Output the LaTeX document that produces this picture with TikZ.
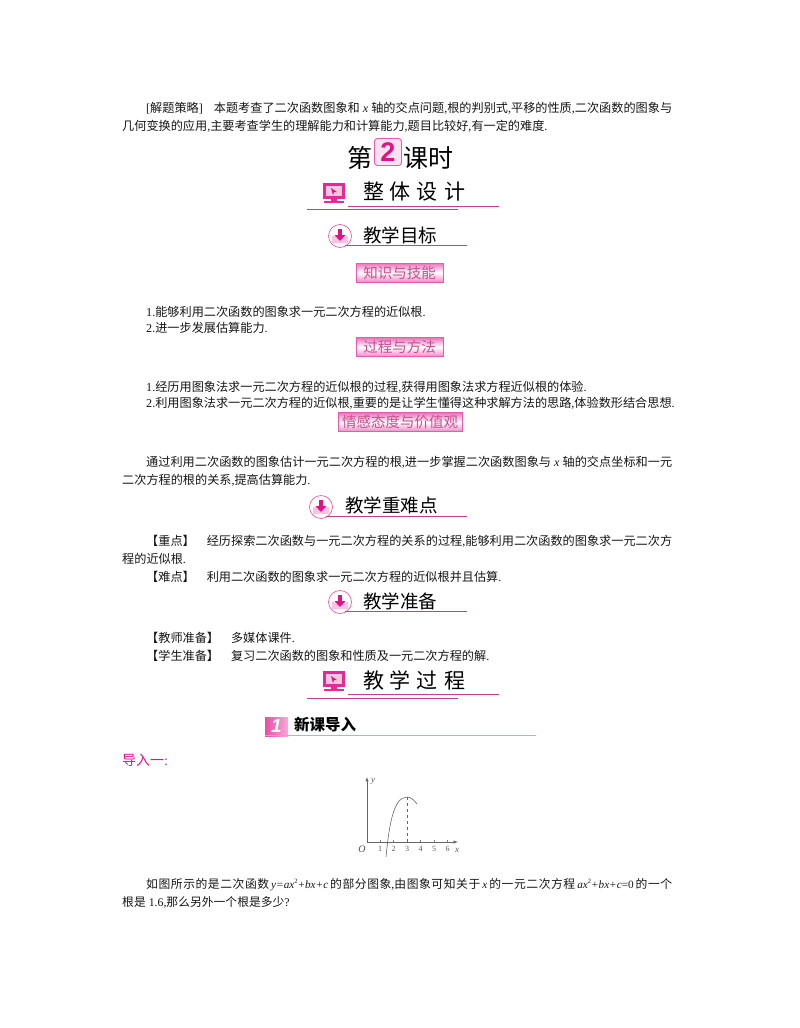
\documentclass[tikz,border=0pt]{standalone}
\usepackage{fontspec}
\setmainfont{Liberation Serif}
\newfontfamily\cjk{Noto Sans CJK SC}
\newfontfamily\numfont{Liberation Sans}
\newcommand{\zh}[1]{{\cjk #1}}
\newcommand{\sq}{\raisebox{4.5pt}{\fontsize{6.5}{7}\selectfont 2}}
\newcommand{\mth}[1]{{\fontsize{11.2}{18}\selectfont\itshape #1}}
\XeTeXlinebreaklocale "zh"
\XeTeXlinebreakskip=0pt plus 2pt
\definecolor{rosered}{HTML}{E0128A}
\definecolor{roseline}{HTML}{C2408F}
\definecolor{rosepale}{HTML}{F7C6DE}
\definecolor{rosetext}{HTML}{C8508F}
\definecolor{inkgray}{HTML}{151515}
\tikzset{
  x=1pt, y=-1pt,
  textline/.style={anchor=base west, inner sep=0pt, font=\fontsize{12.15}{18}\selectfont, text=inkgray},
  paragraph/.style={anchor=north west, inner sep=0pt, text width=550pt, align=justify,
    font=\fontsize{12.15}{18}\selectfont, text=inkgray},
  badge/.style={draw=rosered!70, line width=0.6pt, minimum height=19pt, inner sep=0pt,
    top color=rosered!60, bottom color=rosered!50, middle color=white,
    text=rosetext, font=\fontsize{14.5}{16}\selectfont},
  bighead/.style={inner sep=0pt, text=black, font=\fontsize{21}{24}\selectfont},
  midhead/.style={inner sep=0pt, text=black, font=\fontsize{18.5}{22}\selectfont},
  headline/.style={roseline, line width=1pt},
  monitoricon/.pic={
    \fill[rosered!90] (-11,-10) rectangle (11,6);
    \fill[rosepale] (-8,-7) rectangle (8,3);
    \fill[rosered] (-3,-5) -- (3,-1) -- (0,-1) -- (-1,2) -- cycle;
    \fill[rosered!90] (-3,6) rectangle (3,8);
    \fill[rosered!90] (-10,8) rectangle (10,10);
  },
  downicon/.pic={
    \draw[rosered!70, fill=white, line width=0.7pt] (0,0) circle (11.5);
    \fill[rosepale] (-8,0) -- (-4,0) -- (0,5) -- (4,0) -- (8,0) -- (8,7) -- (-8,7) -- cycle;
    \fill[rosered] (-2,-7) rectangle (2,-1);
    \fill[rosered] (-5.5,-1) -- (5.5,-1) -- (0,5) -- cycle;
  },
}
\begin{document}
\begin{tikzpicture}
  \useasboundingbox (0,0) rectangle (800,1028);

  % Opening paragraph
  \node[paragraph] (intro) at (122,102) {\hspace*{24pt}[\zh{解题策略}]\hspace{11pt}\zh{本题考查了二次函数图象和} \textit{x} \zh{轴的交点问题},\zh{根的判别式},\zh{平移的性质},\zh{二次函数的图象与}\linebreak[4]\zh{几何变换的应用},\zh{主要考查学生的理解能力和计算能力},\zh{题目比较好},\zh{有一定的难度}.};

  % Lesson title
  \node[inner sep=0pt, font=\fontsize{25}{28}\selectfont] (lessonA) at (360,158) {\zh{第}};
  \node[draw=rosered!70, fill=rosepale!50, rounded corners=3pt, line width=0.9pt, minimum width=27pt, minimum height=27pt, inner sep=0pt,
    text=rosered, font=\fontsize{27}{28}\numfont\bfseries] (lessonNum) at (388,152) {2};
  \node[inner sep=0pt, font=\fontsize{25}{28}\selectfont] (lessonB) at (428,158) {\zh{课时}};

  % Section: overall design
  \pic at (334,193) {monitoricon};
  \node[bighead] (designHead) at (414,192) {\zh{整\hspace{6pt}体\hspace{6pt}设\hspace{6pt}计}};
  \draw[headline] (348,206) -- (499,206);
  \draw[headline] (307,209.5) -- (458,209.5);

  % Section: goals
  \pic at (340,236) {downicon};
  \node[midhead] (goalHead) at (400,235) {\zh{教学目标}};
  \draw[headline] (345,245) -- (467,245);

  \node[badge, minimum width=87pt] (skillTag) at (399.5,272.5) {\zh{知识与技能}};
  \node[textline] (skillA) at (146,316) {1.\zh{能够利用二次函数的图象求一元二次方程的近似根}.};
  \node[textline] (skillB) at (146,332) {2.\zh{进一步发展估算能力}.};

  \node[badge, minimum width=87pt] (methodTag) at (399.5,347) {\zh{过程与方法}};
  \node[textline] (methodA) at (146,391) {1.\zh{经历用图象法求一元二次方程的近似根的过程},\zh{获得用图象法求方程近似根的体验}.};
  \node[textline] (methodB) at (146,407) {2.\zh{利用图象法求一元二次方程的近似根},\zh{重要的是让学生懂得这种求解方法的思路},\zh{体验数形结合思想}.};

  \node[badge, minimum width=124pt] (attitudeTag) at (400,422) {\zh{情感态度与价值观}};
  \node[paragraph] (attitude) at (122,456) {\hspace*{24pt}\zh{通过利用二次函数的图象估计一元二次方程的根},\zh{进一步掌握二次函数图象与} \textit{x} \zh{轴的交点坐标和一元}\linebreak[4]\zh{二次方程的根的关系},\zh{提高估算能力}.};

  % Section: key points
  \pic at (321,507) {downicon};
  \node[midhead] (keyHead) at (391.5,505) {\zh{教学重难点}};
  \draw[headline] (326,516) -- (467,516);

  \node[paragraph] (keyA) at (122,535) {\hspace*{24pt}\zh{【重点】}\hspace{12pt}\zh{经历探索二次函数与一元二次方程的关系的过程},\zh{能够利用二次函数的图象求一元二次方}\linebreak[4]\zh{程的近似根}.};
  \node[textline] (keyB) at (146,581) {\zh{【难点】}\hspace{12pt}\zh{利用二次函数的图象求一元二次方程的近似根并且估算}.};

  % Section: preparation
  \pic at (340,602) {downicon};
  \node[midhead] (prepHead) at (400,601) {\zh{教学准备}};
  \draw[headline] (345,611) -- (467,611);

  \node[textline] (prepA) at (146,642) {\zh{【教师准备】}\hspace{12pt}\zh{多媒体课件}.};
  \node[textline] (prepB) at (146,660) {\zh{【学生准备】}\hspace{12pt}\zh{复习二次函数的图象和性质及一元二次方程的解}.};

  % Section: teaching process
  \pic at (334,681) {monitoricon};
  \node[bighead] (processHead) at (414,680) {\zh{教\hspace{6pt}学\hspace{6pt}过\hspace{6pt}程}};
  \draw[headline] (348,694) -- (499,694);
  \draw[headline] (307,698) -- (458,698);

  % New lesson banner
  \shade[left color=rosered!75, right color=rosered!35] (265,717) rectangle (288,736);
  \node[inner sep=0pt, text=white, font=\fontsize{19}{20}\numfont\bfseries\itshape] (newNum) at (276.5,726) {1};
  \node[inner sep=0pt, text=black, font=\fontsize{15.5}{18}\selectfont] (newHead) at (325,725) {\zh{\bfseries 新课导入}};
  \draw[rosered!45, line width=1pt] (265,735.5) -- (536,735.5);

  \node[textline, text=rosered, font=\fontsize{14}{16}\selectfont] (leadIn) at (122,765) {\zh{导入一}:};

  % Graph
  \draw[-latex, gray!80!black, line width=0.5pt] (367,842) -- (367,777);
  \draw[-latex, gray!80!black, line width=0.5pt] (367,842) -- (458,842);
  \foreach \t/\xpos in {1/380,2/393.5,3/407,4/420.5,5/434,6/447.5}{
    \draw[gray, line width=0.4pt] (\xpos,842) -- (\xpos,840);
    \node[inner sep=0pt, text=gray!70!black, font=\fontsize{8}{9}\selectfont] (tick\t) at (\xpos,849) {\t};
  }
  \node[inner sep=0pt, text=gray!60!black, font=\fontsize{10}{10}\selectfont\itshape] (originLabel) at (362,849) {O};
  \node[inner sep=0pt, text=gray!70!black, font=\fontsize{9}{9}\selectfont\itshape] (xLabel) at (457,850) {x};
  \node[inner sep=0pt, text=gray!70!black, font=\fontsize{9}{9}\selectfont\itshape] (yLabel) at (373,781) {y};
  \draw[gray!80!black, line width=0.6pt] (386,857) .. controls (389,827) and (393,797) .. (407,797) .. controls (411,797) and (414,800) .. (417,804);
  \draw[dashed, gray!80!black, line width=0.5pt] (407,797) -- (407,842);

  % Closing paragraph
  \node[paragraph, font=\fontsize{11.8}{18}\selectfont] (question) at (122,878) {\hspace*{24pt}\zh{如图所示的是二次函数}\hspace{2pt}\mth{y=ax}\sq\mth{+bx+c}\hspace{2pt}\zh{的部分图象},\zh{由图象可知关于}\hspace{2pt}\mth{x}\hspace{2pt}\zh{的一元二次方程}\hspace{2pt}\mth{ax}\sq\mth{+bx+c}{\fontsize{11.2}{18}\selectfont =0}\hspace{2pt}\zh{的一个}\linebreak[4]\zh{根是} 1.6,\zh{那么另外一个根是多少}?};
\end{tikzpicture}
\end{document}
